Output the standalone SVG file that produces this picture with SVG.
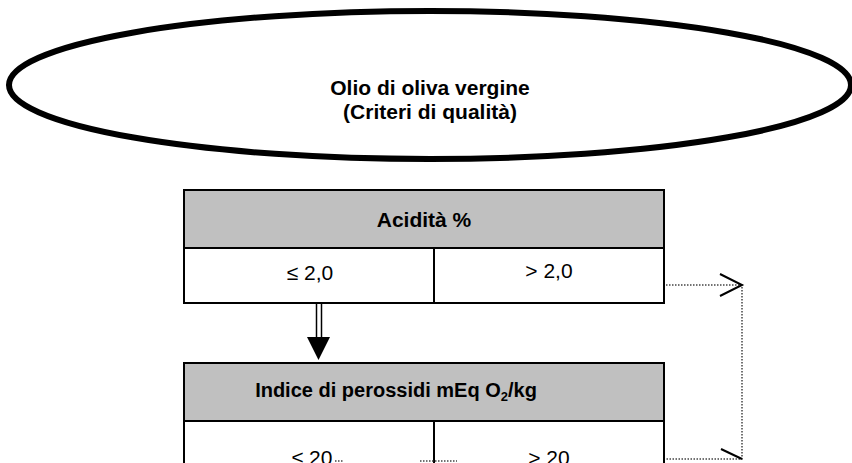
<svg xmlns="http://www.w3.org/2000/svg" width="852" height="463" viewBox="0 0 852 463">
<style>
text{font-family:"Liberation Sans",Arial,sans-serif;fill:#000}
.b{font-weight:bold;font-size:21px}
.r{font-size:21px}
.hdr{fill:#C0C0C0;stroke:#000;stroke-width:2}
.cell{fill:#fff;stroke:#000;stroke-width:2}
.dot{fill:none;stroke:#444;stroke-width:1.5;stroke-dasharray:1.5 1.5}
.open{fill:none;stroke:#000;stroke-width:2}
</style>
<rect width="852" height="463" fill="#fff"/>
<g id="title">
<ellipse cx="430" cy="85" rx="421" ry="74" fill="#fff" stroke="#000" stroke-width="6"/>
<text class="b" x="430" y="95" text-anchor="middle">Olio di oliva vergine</text>
<text class="b" x="430" y="119" text-anchor="middle">(Criteri di qualità)</text>
</g>
<g id="acidita">
<rect class="hdr" x="184" y="190" width="480" height="58"/>
<rect class="cell" x="184" y="248" width="250" height="55"/>
<rect class="cell" x="434" y="248" width="230" height="55"/>
<text class="b" x="424" y="227" text-anchor="middle">Acidità %</text>
<text class="r" x="310" y="280" text-anchor="middle">≤ 2,0</text>
<text class="r" x="549" y="278" text-anchor="middle">&gt; 2,0</text>
</g>
<g id="perossidi">
<rect class="hdr" x="184" y="363" width="480" height="58"/>
<rect class="cell" x="184" y="421" width="250" height="60"/>
<rect class="cell" x="434" y="421" width="230" height="60"/>
<text class="b" x="396" y="397" text-anchor="middle" style="font-size:20px">Indice di perossidi mEq O<tspan font-size="13" dy="4">2</tspan><tspan dy="-4">/kg</tspan></text>
<text class="r" x="312" y="465" text-anchor="middle">≤ 20</text>
<text class="r" x="549" y="465" text-anchor="middle">&gt; 20</text>
</g>
<g id="connectors">
<line x1="316.5" y1="304" x2="316.5" y2="338" stroke="#000" stroke-width="1.5"/>
<line x1="321.5" y1="304" x2="321.5" y2="338" stroke="#000" stroke-width="1.5"/>
<polygon points="307,337 330,337 318.5,360" fill="#000"/>
<polyline class="dot" points="666,285 742,285 742,459 666,459"/>
<polyline class="open" points="720,274 742,285 720,296"/>
<line class="open" x1="721" y1="449" x2="742" y2="459"/>
<line class="dot" x1="335" y1="461" x2="343" y2="461"/>
<line class="dot" x1="420" y1="461" x2="457" y2="461"/>
</g>
</svg>
